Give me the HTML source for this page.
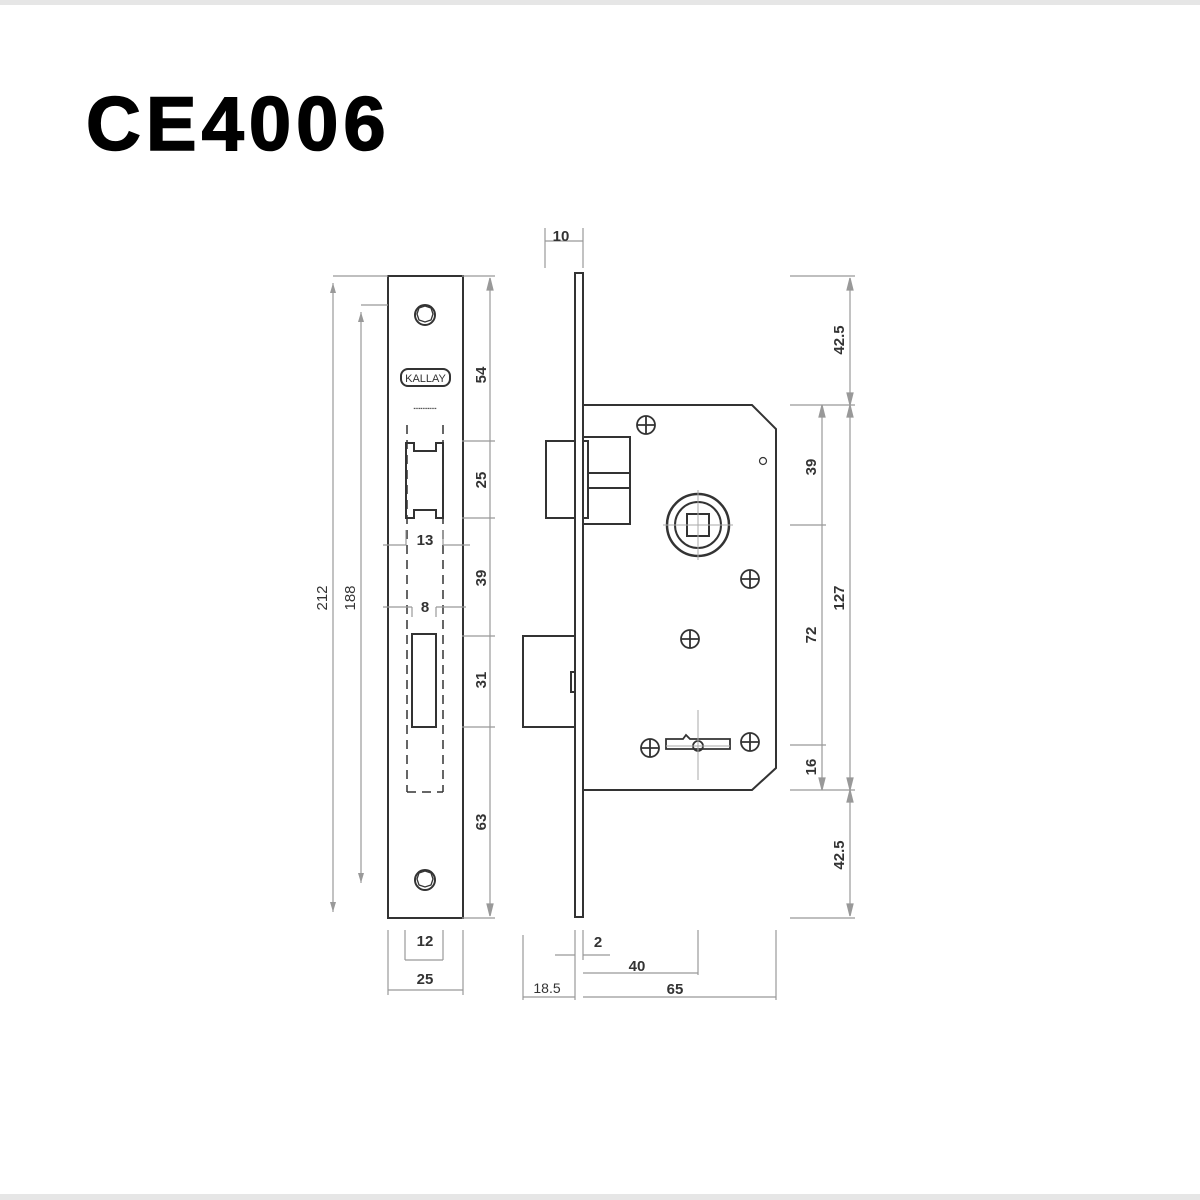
<!DOCTYPE html>
<html><head><style>
body{margin:0;width:1200px;height:1200px;background:#fff;overflow:hidden}
svg{display:block}
</style></head><body>
<svg width="1200" height="1200" viewBox="0 0 1200 1200" xmlns="http://www.w3.org/2000/svg" font-family="Liberation Sans, sans-serif">
<rect x="0" y="0" width="1200" height="5" fill="#e6e6e6"/>
<rect x="0" y="1194" width="1200" height="6" fill="#e6e6e6"/>
<text x="86" y="150" font-size="76" font-weight="900" fill="#000" letter-spacing="5" stroke="#000" stroke-width="1.5">CE4006</text>
<defs>
<marker id="a" viewBox="0 0 10 6" refX="10" refY="3" markerWidth="10" markerHeight="6" orient="auto-start-reverse" markerUnits="userSpaceOnUse"><path d="M0,0L10,3L0,6z" fill="#999"/></marker>
</defs>
<!-- front faceplate -->
<g stroke="#333" fill="none" stroke-width="2">
<rect x="388" y="276" width="75" height="642"/>
<circle cx="425" cy="315" r="10"/><circle cx="425" cy="880" r="10"/>
<rect x="401" y="369" width="49" height="17" rx="7"/>
<path d="M406 443H414V451H436V443H443V518H436V510H414V518H406Z"/>
<rect x="412" y="634" width="24" height="93"/>
</g>
<path d="M419 308l6 -2l6 2l2 6l-2 6l-6 2l-6-2l-2-6z" stroke="#333" fill="none" stroke-width="1.3"/>
<path d="M419 873l6 -2l6 2l2 6l-2 6l-6 2l-6-2l-2-6z" stroke="#333" fill="none" stroke-width="1.3"/>
<text x="425.5" y="382" font-size="11" text-anchor="middle" fill="#333">KALLAY</text>
<text x="425" y="410" font-size="5" text-anchor="middle" fill="#555">▪▪▪▪▪▪▪▪▪▪▪▪▪</text>
<g stroke="#333" stroke-width="1.5" stroke-dasharray="9,6" fill="none">
<line x1="407" y1="425" x2="407" y2="792"/><line x1="443" y1="425" x2="443" y2="792"/>
<line x1="407" y1="792" x2="443" y2="792"/>
</g>
<!-- side view -->
<g stroke="#333" fill="none" stroke-width="2">
<rect x="575" y="273" width="8" height="644"/>
<path d="M583 405H752L776 429V768L752 790H583"/>
<rect x="546" y="441" width="29" height="77"/>
<rect x="583" y="437" width="47" height="87"/>
<line x1="588" y1="473" x2="630" y2="473"/><line x1="588" y1="488" x2="630" y2="488"/>
<rect x="583" y="441" width="5" height="77"/>
<rect x="523" y="636" width="52" height="91"/>
<rect x="571" y="672" width="4" height="20"/>
<circle cx="698" cy="525" r="31" stroke-width="2.5"/>
<circle cx="698" cy="525" r="23"/>
<rect x="687" y="514" width="22" height="22"/>
<circle cx="763" cy="461" r="3.5" stroke-width="1.2"/>
</g>
<g stroke="#333" fill="none" stroke-width="1.8">
<circle cx="646" cy="425" r="9"/><path d="M637 425h18M646 416v18"/>
<circle cx="750" cy="579" r="9"/><path d="M741 579h18M750 570v18"/>
<circle cx="690" cy="639" r="9"/><path d="M681 639h18M690 630v18"/>
<circle cx="650" cy="748" r="9"/><path d="M641 748h18M650 739v18"/>
<circle cx="750" cy="742" r="9"/><path d="M741 742h18M750 733v18"/>
<path d="M666 739h17l3-4l4 4h18l-4 0l0 0h26v10H666z"/>
<circle cx="698" cy="746" r="5"/>
</g>
<g stroke="#aaa" stroke-width="1" fill="none">
<path d="M698 490v70M663 525h70M698 710v70M666 746h64"/>
</g>
<!-- dimension lines -->
<g stroke="#999" stroke-width="1.2" fill="none">
<path d="M333 276H388M361 305H388M462 276H495M462 441H495M462 518H495M462 636H495M462 727H495M462 918H495"/>
<line x1="333" y1="283" x2="333" y2="912" marker-start="url(#a)" marker-end="url(#a)"/>
<line x1="361" y1="312" x2="361" y2="883" marker-start="url(#a)" marker-end="url(#a)"/>
<line x1="490" y1="278" x2="490" y2="916"/>
<path d="M490 278l-3 12h6zM490 916l-3-12h6z" fill="#999"/>
<path d="M790 276H855M790 405H855M790 525H826M790 745H826M790 790H855M790 918H855"/>
<line x1="850" y1="278" x2="850" y2="916"/>
<path d="M850 278l-3 12h6zM850 916l-3-12h6zM850 405l-3-12h6zM850 405l-3 12h6zM850 790l-3-12h6zM850 790l-3 12h6z" fill="#999"/>
<line x1="822" y1="405" x2="822" y2="790"/>
<path d="M822 405l-3 12h6zM822 790l-3-12h6z" fill="#999"/>
<path d="M545 228V268M583 228V268M545 241H583"/>
<path d="M406 530V545M443 530V545M383 545H406M443 545H470M412 607V617M436 607V617M383 607H412M436 607H466"/>
<path d="M388 930V995M463 930V995M405 930V960M443 930V960M405 960H443M388 990H463"/>
<path d="M523 935V1000M575 930V1000M583 930V960M698 930V975M776 930V1000M523 997H575M583 997H776M583 973H698M555 955H575M583 955H610"/>
</g>
<g font-size="15" font-weight="bold" fill="#333" text-anchor="middle">
<text x="561" y="241">10</text>
<text x="425" y="545">13</text>
<text x="425" y="612">8</text>
<text x="425" y="946">12</text>
<text x="425" y="984">25</text>
<text x="598" y="947">2</text>
<text x="637" y="971">40</text>
<text x="675" y="994">65</text>
<text x="547" y="993" font-weight="normal" font-size="14">18.5</text>
<text transform="translate(486,375) rotate(-90)">54</text>
<text transform="translate(486,480) rotate(-90)">25</text>
<text transform="translate(486,578) rotate(-90)">39</text>
<text transform="translate(486,680) rotate(-90)">31</text>
<text transform="translate(486,822) rotate(-90)">63</text>
<text transform="translate(327,598) rotate(-90)" font-weight="normal">212</text>
<text transform="translate(355,598) rotate(-90)" font-weight="normal">188</text>
<text transform="translate(844,340) rotate(-90)">42.5</text>
<text transform="translate(844,598) rotate(-90)">127</text>
<text transform="translate(844,855) rotate(-90)">42.5</text>
<text transform="translate(816,467) rotate(-90)">39</text>
<text transform="translate(816,635) rotate(-90)">72</text>
<text transform="translate(816,767) rotate(-90)">16</text>
</g>
</svg>
</body></html>
